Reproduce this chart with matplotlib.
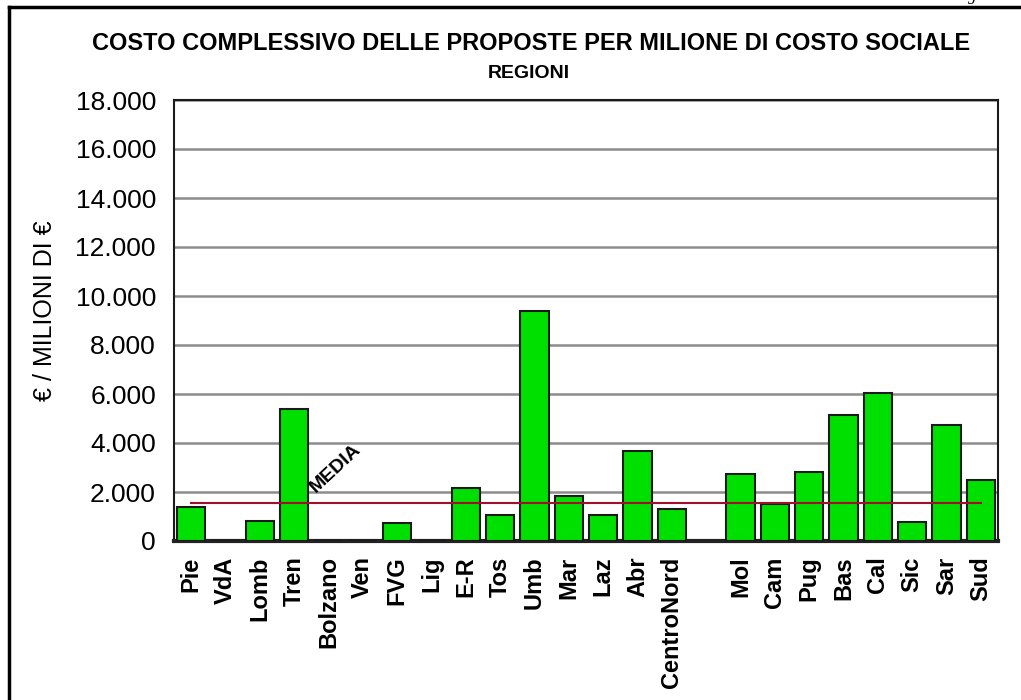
import matplotlib
matplotlib.use("Agg")
import matplotlib.pyplot as plt
from matplotlib.lines import Line2D
import numpy as np

plt.rcParams['font.family'] = ['Liberation Sans', 'DejaVu Sans']

north_labels = ["Pie", "VdA", "Lomb", "Tren", "Bolzano", "Ven", "FVG", "Lig",
                "E-R", "Tos", "Umb", "Mar", "Laz", "Abr", "CentroNord"]
north_values = [1370, 0, 820, 5380, 0, 0, 720, 0,
                2150, 1060, 9370, 1840, 1060, 3670, 1310]
south_labels = ["Mol", "Cam", "Pug", "Bas", "Cal", "Sic", "Sar", "Sud"]
south_values = [2730, 1510, 2820, 5140, 6040, 775, 4730, 2510]
media_value = 1550
yticks = [0, 2000, 4000, 6000, 8000, 10000, 12000, 14000, 16000, 18000]
ytick_labels = ["0", "2.000", "4.000", "6.000", "8.000", "10.000",
                "12.000", "14.000", "16.000", "18.000"]

labels = north_labels + south_labels
values = north_values + south_values
pos = np.concatenate([np.arange(len(north_labels)),
                      np.arange(len(south_labels)) + len(north_labels) + 1])

fig = plt.figure(figsize=(10.21, 7.0), dpi=100)
ax = fig.add_axes([174/1021, 1-541/700, (998-174)/1021, (541-100)/700])

ax.set_axisbelow(True)
ax.yaxis.grid(True, color='#8c8c8c', linewidth=1.8)
ax.bar(pos, values, width=0.82, color='#00E000', edgecolor='#1a1a1a', linewidth=1.5, zorder=3)
ax.plot([pos[0], pos[-1]], [media_value, media_value], color='#A0102A', linewidth=1.5, zorder=4)
ax.text(4.2, 2950, "MEDIA", rotation=43, fontsize=14, fontweight='bold',
        ha='center', va='center', zorder=5)

ax.set_xlim(-0.5, pos[-1] + 0.5)
ax.set_ylim(0, 18000)
ax.set_yticks(yticks)
ax.set_yticklabels(ytick_labels, fontsize=19)
ax.set_xticks(pos)
ax.set_xticklabels(labels, rotation=90, fontsize=17, fontweight='bold', va='top')
ax.tick_params(axis='y', length=0, pad=13)
ax.tick_params(axis='x', length=0, pad=11)
for s in ['top', 'left', 'right']:
    ax.spines[s].set_linewidth(1.5)
    ax.spines[s].set_color('#1a1a1a')
ax.spines['bottom'].set_linewidth(3)
ax.spines['bottom'].set_color('#222222')

fig.text(0.044, 0.556, "€ / MILIONI DI €", rotation=90, fontsize=18,
         ha='center', va='center')
fig.text(531/1021, 1-44/700, "COSTO COMPLESSIVO DELLE PROPOSTE PER MILIONE DI COSTO SOCIALE",
         fontsize=17, fontweight='bold', ha='center', va='center')
fig.text(529/1021, 1-74/700, "REGIONI", fontsize=14, fontweight='bold',
         ha='center', va='center')

# page frame
fig.add_artist(Line2D([8.5/1021, 1.0], [1-6.5/700, 1-6.5/700], color='black',
                      linewidth=2.5, transform=fig.transFigure))
fig.add_artist(Line2D([8.5/1021, 8.5/1021], [0, 1-6.5/700], color='black',
                      linewidth=2.5, transform=fig.transFigure))
fig.text(972/1021, 1+4/700, "g", fontsize=12, family='Liberation Serif',
         style='italic', ha='center', va='center')

fig.savefig("out.png", dpi=100)
